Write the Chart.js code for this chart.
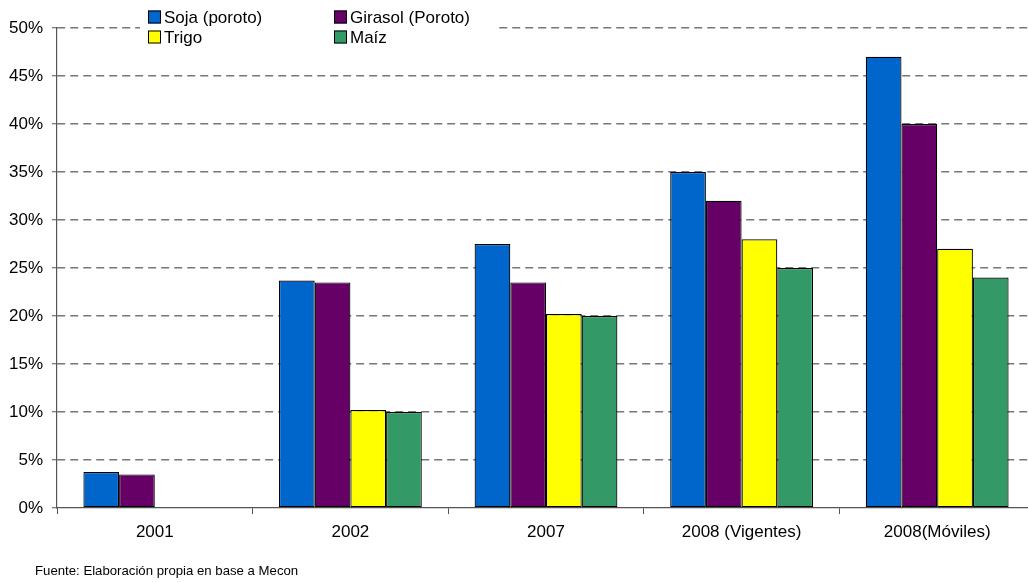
<!DOCTYPE html>
<html>
<head>
<meta charset="utf-8">
<script src="https://cdn.jsdelivr.net/npm/chart.js@4"></script>
<style>
  html, body { margin: 0; padding: 0; background: #fff; overflow: hidden; }
  #wrap { position: relative; width: 1028px; height: 582px; overflow: hidden; }
  #chart { position: absolute; left: 0; top: 0; }
  #fuente { position: absolute; left: 35px; top: 563px; font: 13.2px "Liberation Sans", Arial, sans-serif; color: #000; }
</style>
</head>
<body>
<div id="wrap">
  <canvas id="chart" width="1040" height="582" style="width:1040px;height:582px"></canvas>
  <div id="fuente">Fuente: Elaboración propia en base a Mecon</div>
</div>
<script>
const categories = ['2001', '2002', '2007', '2008 (Vigentes)', '2008(Móviles)'];
const soja    = [3.75, 23.7, 27.5, 35, 47];
const girasol = [3.5, 23.5, 23.5, 32, 40];
const trigo   = [null, 10.2, 20.2, 28, 27];
const maiz    = [null, 10, 20, 25, 24];
const yTicks  = [0, 5, 10, 15, 20, 25, 30, 35, 40, 45, 50];

const FONT = '"Liberation Sans", Arial, sans-serif';

// leyenda en 2 columnas con fondo blanco
const legendBox = {
  id: 'legendBox',
  afterDraw(chart) {
    const ctx = chart.ctx;
    const ds = chart.data.datasets;
    ctx.save();
    ctx.fillStyle = '#fff';
    ctx.fillRect(140, 3, 356, 48);
    ctx.font = '17px ' + FONT;
    ctx.textBaseline = 'middle';
    ds.forEach((d, i) => {
      const col = i % 2, row = Math.floor(i / 2);
      const bx = col ? 334 : 148;
      const cy = row ? 37 : 17;
      ctx.fillStyle = d.backgroundColor;
      ctx.fillRect(bx, cy - 6.5, 13, 13);
      ctx.strokeStyle = '#000';
      ctx.lineWidth = 1;
      ctx.strokeRect(bx + 0.5, cy - 6, 12, 12);
      ctx.fillStyle = '#000';
      ctx.fillText(d.label, bx + 16, cy + 1);
    });
    ctx.restore();
  }
};

new Chart(document.getElementById('chart'), {
  type: 'bar',
  data: {
    labels: categories,
    datasets: [
      { label: 'Soja (poroto)',    data: soja,    backgroundColor: '#0066CC' },
      { label: 'Girasol (Poroto)', data: girasol, backgroundColor: '#660066' },
      { label: 'Trigo',            data: trigo,   backgroundColor: '#FFFF00' },
      { label: 'Maíz',             data: maiz,    backgroundColor: '#339966' }
    ].map(d => Object.assign(d, {
      borderColor: '#000', borderWidth: 1.2, borderSkipped: false,
      categoryPercentage: 0.73, barPercentage: 1
    }))
  },
  options: {
    responsive: false,
    animation: false,
    layout: { padding: { top: 28, right: 5, left: 0, bottom: 0 } },
    plugins: { legend: { display: false }, tooltip: { enabled: false } },
    scales: {
      x: {
        afterFit(s) { s.height = 74; },
        grid: { drawOnChartArea: false, drawTicks: true, tickLength: 6, color: '#555', offset: true },
        border: { color: '#555', width: 1.2 },
        ticks: { color: '#000', font: { family: FONT, size: 17 }, padding: 8, maxRotation: 0 }
      },
      y: {
        min: 0, max: 50,
        afterFit(s) { s.width = 57; },
        afterBuildTicks(s) { s.ticks = yTicks.map(v => ({ value: v })); },
        grid: {
          color: c => (c.tick && c.tick.value === 0) ? 'rgba(0,0,0,0)' : '#777',
          lineWidth: 1.5, tickLength: 5, tickColor: '#555', tickWidth: 1
        },
        border: { color: '#555', width: 1.2, dash: [8, 5] },
        ticks: { color: '#000', font: { family: FONT, size: 17 }, padding: 9, callback: v => v + '%' }
      }
    }
  },
  plugins: [legendBox]
});
</script>
</body>
</html>
